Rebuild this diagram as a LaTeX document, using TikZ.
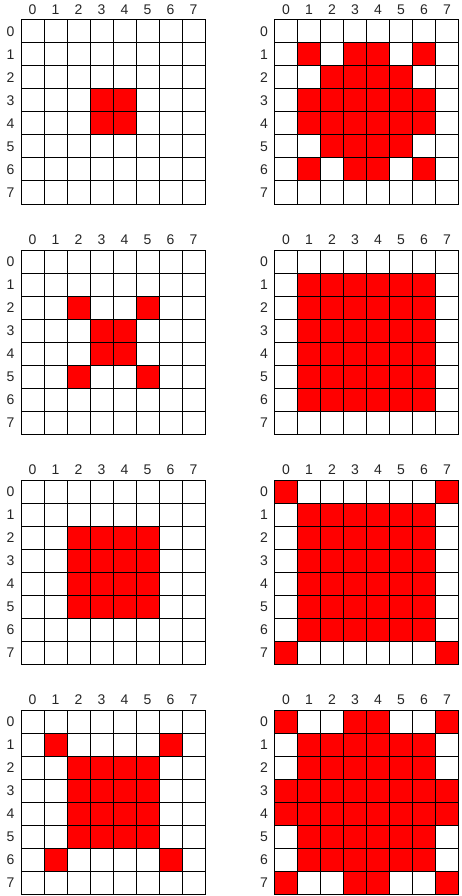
\documentclass[tikz,border=0pt]{standalone}
\usepackage{fontspec}
\setmainfont{Liberation Sans}
\newcommand\drawgrid[4]{%
  \begin{scope}[shift={(#1,#2)}]
    \foreach \ra/\ca/\rb/\cb in {#4} {
      \fill[cellfill] (\ca*23,\ra*23) rectangle ({(\cb+1)*23},{(\rb+1)*23});
    }
    \foreach \k in {0,...,8} {
      \draw[gridline] (\k*23,0) -- (\k*23,184);
      \draw[gridline] (0,\k*23) -- (184,\k*23);
    }
    \foreach \k in {0,...,7} {
      \node[lab] (#3c\k) at (\k*23+11.5,-10) {\k};
      \node[lab] (#3r\k) at (-10.5,\k*23+11.5) {\k};
    }
  \end{scope}%
}
\begin{document}
\begin{tikzpicture}[x=1pt,y=-1pt,
  cellfill/.style={fill=red},
  gridline/.style={draw=black,line width=1pt,line cap=rect},
  lab/.style={font=\fontsize{14}{14}\selectfont,inner sep=0pt,text=black!85}]
\useasboundingbox (0,0) rectangle (461,896);
\fill[white] (0,0) rectangle (461,896);
\drawgrid{21}{20}{ga}{3/3/4/4}
\drawgrid{274.5}{20}{gb}{1/1/1/1, 1/3/1/4, 1/6/1/6, 2/2/2/5, 3/1/4/6, 5/2/5/5, 6/1/6/1, 6/3/6/4, 6/6/6/6}
\drawgrid{21}{250}{gc}{2/2/2/2, 2/5/2/5, 3/3/4/4, 5/2/5/2, 5/5/5/5}
\drawgrid{274.5}{250}{gd}{1/1/6/6}
\drawgrid{21}{480}{ge}{2/2/5/5}
\drawgrid{274.5}{480}{gf}{1/1/6/6, 0/0/0/0, 0/7/0/7, 7/0/7/0, 7/7/7/7}
\drawgrid{21}{710}{gg}{2/2/5/5, 1/1/1/1, 1/6/1/6, 6/1/6/1, 6/6/6/6}
\drawgrid{274.5}{710}{gh}{0/0/0/0, 0/3/0/4, 0/7/0/7, 1/1/2/6, 3/0/4/7, 5/1/6/6, 7/0/7/0, 7/3/7/4, 7/7/7/7}
\end{tikzpicture}
\end{document}
